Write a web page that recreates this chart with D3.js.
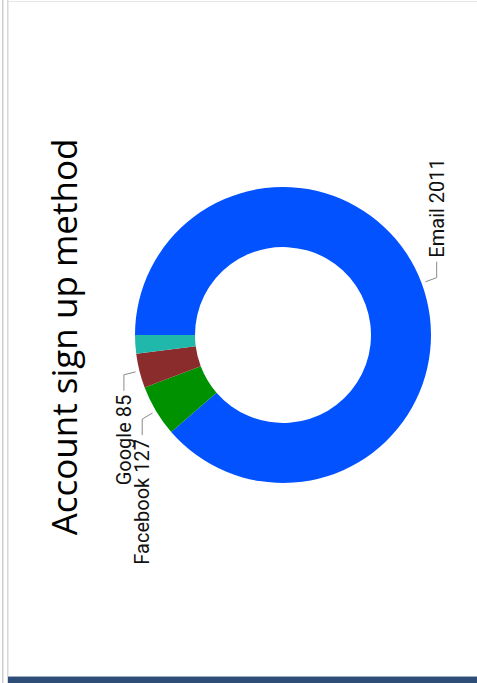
<!DOCTYPE html>
<html>
<head>
<meta charset="utf-8">
<script src="https://cdn.jsdelivr.net/npm/d3@7"></script>
<style>
  html, body { margin: 0; padding: 0; background: #fff; }
  svg { display: block; }
</style>
</head>
<body>
<div id="chart"></div>
<script>
// chart data
const methods = ["Email", "Facebook", "Google", "Other"];
const counts = [2011, 127, 85, 46];
const sliceColors = ["#0252ff", "#009100", "#8a2c2c", "#1fb8ab"];
const chartTitle = "Account sign up method";

const width = 477, height = 683;
const outerR = 148, innerR = 88;
const cx = 283, cy = 335;

const data = methods.map((m, i) => ({ method: m, count: counts[i] }));
const total = d3.sum(counts);

const svg = d3.select("#chart").append("svg")
  .attr("width", width)
  .attr("height", height);

// page frame
svg.append("rect").attr("x", 0).attr("y", 0).attr("width", width).attr("height", height).attr("fill", "#fff");
svg.append("rect").attr("x", 2).attr("y", 0).attr("width", 1.5).attr("height", height).attr("fill", "#cfcfcf");
svg.append("rect").attr("x", 7).attr("y", 0).attr("width", 1.5).attr("height", height).attr("fill", "#d8d8d8");
svg.append("rect").attr("x", 8).attr("y", 1).attr("width", width - 8).attr("height", 1).attr("fill", "#e6e6e6");
svg.append("rect").attr("x", 8).attr("y", 676).attr("width", width - 8).attr("height", 1).attr("fill", "#9fb0c6");
svg.append("rect").attr("x", 8).attr("y", 677).attr("width", width - 8).attr("height", 6).attr("fill", "#2e4d77");

// title (rotated)
svg.append("text")
  .attr("transform", `translate(77,337) rotate(-90)`)
  .attr("text-anchor", "middle")
  .style("font-family", "'Open Sans', sans-serif")
  .style("font-size", "35px")
  .attr("fill", "#000")
  .text(chartTitle);

// the whole donut is turned a quarter turn
const g = svg.append("g")
  .attr("transform", `translate(${cx},${cy}) rotate(-90)`);

const pie = d3.pie().sort(null).value(d => d.count);
const arcs = pie(data);

const arc = d3.arc().innerRadius(innerR).outerRadius(outerR);
const startArc = d3.arc().innerRadius(outerR + 4).outerRadius(outerR + 4);
const elbowArc = d3.arc().innerRadius(outerR + 16).outerRadius(outerR + 16);

const color = d3.scaleOrdinal().domain(methods).range(sliceColors);

g.selectAll("path.slice")
  .data(arcs)
  .enter()
  .append("path")
    .attr("class", "slice")
    .attr("d", arc)
    .attr("fill", d => color(d.data.method));

// labels only for slices that are big enough
const labelled = arcs.filter(d => d.data.count / total > 0.03);
const midAngle = d => d.startAngle + (d.endAngle - d.startAngle) / 2;

g.selectAll("polyline")
  .data(labelled)
  .enter()
  .append("polyline")
    .attr("fill", "none")
    .attr("stroke", "#8a8a8a")
    .attr("stroke-width", 1)
    .attr("points", d => {
      const a = startArc.centroid(d);
      const b = elbowArc.centroid(d);
      const side = midAngle(d) < Math.PI ? 1 : -1;
      const c = [b[0] + side * 16, b[1]];
      return [a, b, c].map(p => p.join(",")).join(" ");
    });

g.selectAll("text.label")
  .data(labelled)
  .enter()
  .append("text")
    .attr("class", "label")
    .attr("transform", d => {
      const b = elbowArc.centroid(d);
      const side = midAngle(d) < Math.PI ? 1 : -1;
      return `translate(${b[0] + side * 20},${b[1]})`;
    })
    .attr("text-anchor", d => midAngle(d) < Math.PI ? "start" : "end")
    .attr("dy", "0.35em")
    .style("font-family", "Roboto, sans-serif")
    .style("font-size", "20px")
    .attr("fill", "#111")
    .text(d => `${d.data.method} ${d.data.count}`);
</script>
</body>
</html>
